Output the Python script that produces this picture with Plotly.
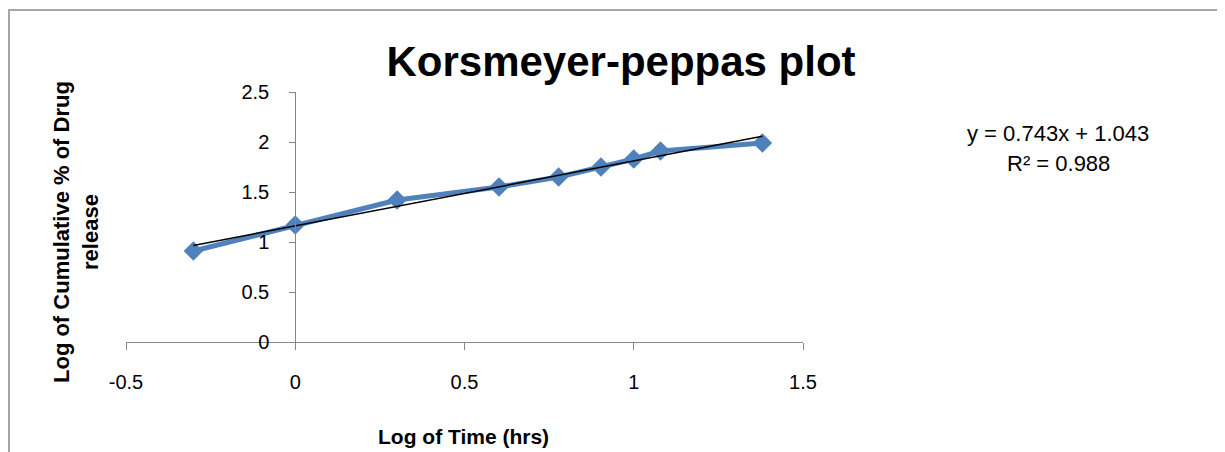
import numpy as np
import plotly.graph_objects as go

# ---- data ----
log_time = [-0.301, 0.0, 0.301, 0.602, 0.778, 0.903, 1.0, 1.079, 1.380]
log_release = [0.91, 1.17, 1.42, 1.55, 1.65, 1.75, 1.83, 1.91, 1.99]
x_ticks = [-0.5, 0, 0.5, 1, 1.5]
y_ticks = [0, 0.5, 1, 1.5, 2, 2.5]
equation_text = "y = 0.743x + 1.043"
r2_text = "R² = 0.988"

# The page body has an 8px margin, so the figure is sized/offset accordingly.
OFF = 8
W, H = 1225 - OFF, 452 - OFF
ML, MT = 126 - OFF, 92 - OFF
PW, PH = 677, 250
MR = W - ML - PW
MB = H - MT - PH


def px_x(p):  # page pixel -> paper x
    return (p - OFF - ML) / PW


def px_y(p):  # page pixel -> paper y
    return (H + OFF - MB - p) / PH


# linear trendline (least squares on the plotted data)
slope, intercept = np.polyfit(log_time, log_release, 1)
tx = np.array([min(log_time), max(log_time)])
ty = slope * tx + intercept

blue = "#4F81BD"
axis_gray = "#868686"
font_family = "Liberation Sans, Arial, sans-serif"

fig = go.Figure()
fig.add_trace(go.Scatter(
    x=log_time, y=log_release, mode="lines+markers",
    line=dict(color=blue, width=5),
    marker=dict(symbol="diamond", size=15, color=blue),
    showlegend=False, hoverinfo="x+y",
))
fig.add_trace(go.Scatter(
    x=tx, y=ty, mode="lines",
    line=dict(color="black", width=1.5),
    showlegend=False, hoverinfo="skip",
))

fig.update_layout(
    width=W, height=H,
    margin=dict(l=ML, r=MR, t=MT, b=MB, pad=0),
    paper_bgcolor="white", plot_bgcolor="white",
    font=dict(family=font_family, color="black"),
    title=dict(
        text="<b>Korsmeyer-peppas plot</b>",
        font=dict(size=42, family=font_family, color="black"),
        xref="container", yref="container",
        x=(621 - OFF) / W, y=1 - (61 - OFF) / H, xanchor="center", yanchor="middle",
    ),
    xaxis=dict(
        range=[-0.5, 1.5], tickvals=x_ticks, ticktext=[str(v) for v in x_ticks],
        showgrid=False, zeroline=False,
        showline=True, linecolor=axis_gray, linewidth=1,
        ticks="outside", ticklen=7, tickcolor=axis_gray, tickwidth=1,
        tickfont=dict(size=20, family=font_family, color="black"),
        ticklabelstandoff=15,
    ),
    yaxis=dict(
        range=[0, 2.5], tickvals=y_ticks, ticktext=[str(v) for v in y_ticks],
        anchor="free", position=0.25,
        showgrid=False, zeroline=False,
        showline=True, linecolor=axis_gray, linewidth=1,
        ticks="outside", ticklen=6, tickcolor=axis_gray, tickwidth=1,
        tickfont=dict(size=20, family=font_family, color="black"),
        ticklabelstandoff=16,
    ),
    annotations=[
        dict(text="<b>Log of Cumulative % of Drug<br>release</b>",
             xref="paper", yref="paper", x=px_x(76), y=px_y(232),
             xanchor="center", yanchor="middle", textangle=-90,
             showarrow=False, font=dict(size=22, family=font_family, color="black")),
        dict(text="<b>Log of Time (hrs)</b>",
             xref="paper", yref="paper", x=px_x(463), y=px_y(436),
             xanchor="center", yanchor="middle",
             showarrow=False, font=dict(size=21, family=font_family, color="black")),
        dict(text=equation_text,
             xref="paper", yref="paper", x=px_x(1058), y=px_y(133),
             xanchor="center", yanchor="middle",
             showarrow=False, font=dict(size=22, family=font_family, color="black")),
        dict(text=r2_text,
             xref="paper", yref="paper", x=px_x(1058), y=px_y(163),
             xanchor="center", yanchor="middle",
             showarrow=False, font=dict(size=22, family=font_family, color="black")),
    ],
    shapes=[
        dict(type="line", xref="paper", yref="paper",
             x0=px_x(9), x1=px_x(9), y0=px_y(10), y1=px_y(460),
             line=dict(color="#A6A6A6", width=2)),
        dict(type="line", xref="paper", yref="paper",
             x0=px_x(8), x1=px_x(1235), y0=px_y(10), y1=px_y(10),
             line=dict(color="#A6A6A6", width=2)),
    ],
)

fig.write_html("out.html")
